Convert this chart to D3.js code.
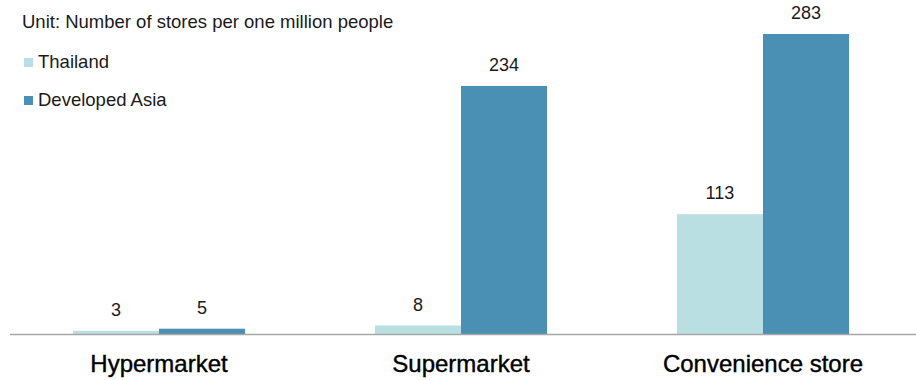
<!DOCTYPE html>
<html>
<head>
<meta charset="utf-8">
<script src="https://cdn.jsdelivr.net/npm/d3@7"></script>
<style>
  body { margin: 0; background: #fff; }
  svg { display: block; font-family: "Liberation Sans", Arial, sans-serif; }
</style>
</head>
<body>
<div id="chart"></div>
<script>
// data
var categories = ["Hypermarket", "Supermarket", "Convenience store"];
var seriesNames = ["Thailand", "Developed Asia"];
var thailand = [3, 8, 113];
var developedAsia = [5, 234, 283];
var colors = ["#b9dfe3", "#4a90b4"];
var unitText = "Unit: Number of stores per one million people";

var w = 916, h = 380;
var svg = d3.select("#chart").append("svg")
    .attr("width", w)
    .attr("height", h);

var baseY = 334;
var x0 = d3.scaleBand()
    .domain(categories)
    .range([8, 914])
    .paddingInner(0.43)
    .paddingOuter(0.215);
var x1 = d3.scaleBand()
    .domain(seriesNames)
    .range([0, x0.bandwidth()]);
var y = d3.scaleLinear()
    .domain([0, 283])
    .range([baseY, 34]);

var rows = categories.map(function(c, i){
  return {cat: c, vals: [thailand[i], developedAsia[i]]};
});

var groups = svg.selectAll("g.grp")
    .data(rows)
    .enter().append("g")
    .attr("class", "grp")
    .attr("transform", function(d){ return "translate(" + x0(d.cat) + ",0)"; });

groups.selectAll("rect")
    .data(function(d){ return d.vals.map(function(v, j){ return {s: seriesNames[j], v: v, j: j}; }); })
    .enter().append("rect")
    .attr("x", function(d){ return x1(d.s); })
    .attr("y", function(d){ return y(d.v); })
    .attr("width", x1.bandwidth())
    .attr("height", function(d){ return baseY - y(d.v); })
    .style("fill", function(d){ return colors[d.j]; });

groups.selectAll("text.val")
    .data(function(d){ return d.vals.map(function(v, j){ return {s: seriesNames[j], v: v}; }); })
    .enter().append("text")
    .attr("class", "val")
    .attr("x", function(d){ return x1(d.s) + x1.bandwidth() / 2; })
    .attr("y", function(d){ return y(d.v) - 15; })
    .attr("text-anchor", "middle")
    .style("font-size", "18px")
    .style("fill", "#1a1a1a")
    .text(function(d){ return d.v; });

// baseline / category axis
var xAxis = d3.axisBottom(x0).tickSize(0).tickPadding(21);
var ax = svg.append("g")
    .attr("transform", "translate(0," + baseY + ")")
    .call(xAxis);
ax.select(".domain").attr("d", "M10,0.5H916").style("stroke", "#a6a6a6").style("stroke-width", 1.5);
ax.selectAll("text")
    .attr("dy", "0")
    .attr("y", 38)
    .style("font-family", "\"Liberation Sans\", Arial, sans-serif")
    .style("font-size", "24px")
    .style("fill", "#000")
    .style("stroke", "#000")
    .style("stroke-width", "0.4px");

// unit note + legend
svg.append("text")
    .attr("x", 22).attr("y", 28)
    .style("font-size", "18.5px")
    .style("fill", "#1a1a1a")
    .text(unitText);

var leg = svg.selectAll("g.leg")
    .data(seriesNames)
    .enter().append("g")
    .attr("class", "leg")
    .attr("transform", function(d, i){ return "translate(24," + (62.5 + i * 38) + ")"; });
leg.append("rect")
    .attr("x", 0).attr("y", -4.5)
    .attr("width", 9).attr("height", 9)
    .style("fill", function(d, i){ return colors[i]; });
leg.append("text")
    .attr("x", 14).attr("y", 5.5)
    .style("font-size", "18.5px")
    .style("fill", "#1a1a1a")
    .text(function(d){ return d; });
</script>
</body>
</html>
